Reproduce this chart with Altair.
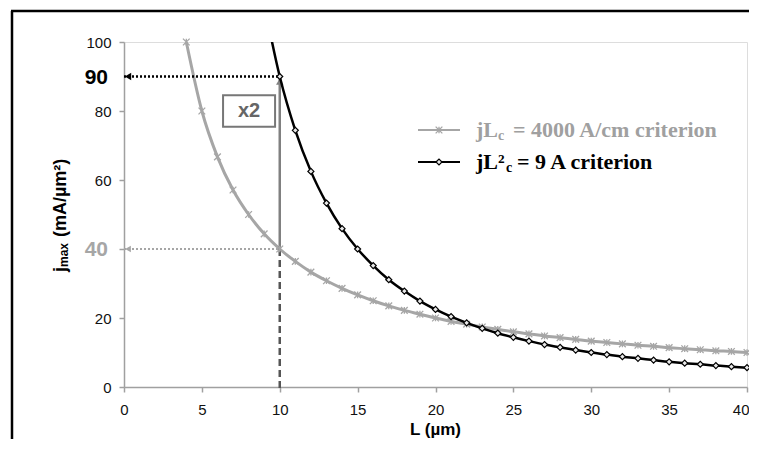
import altair as alt
import pandas as pd

# ---- data ----
L_gray = [4, 5, 6, 7, 8, 9, 10, 11, 12, 13, 14, 15, 16, 17, 18, 19, 20, 21, 22,
          23, 24, 25, 26, 27, 28, 29, 30, 31, 32, 33, 34, 35, 36, 37, 38, 39, 40]
j_gray = [100, 80, 66.7, 57.1, 50, 44.4, 40, 36.4, 33.3, 30.8, 28.6, 26.7, 25,
          23.5, 22.2, 21.1, 20, 19, 18.2, 17.4, 16.7, 16, 15.4, 14.8, 14.3, 13.8,
          13.3, 12.9, 12.5, 12.1, 11.8, 11.4, 11.1, 10.8, 10.5, 10.3, 10]

L_black = [9, 10, 11, 12, 13, 14, 15, 16, 17, 18, 19, 20, 21, 22, 23, 24, 25,
           26, 27, 28, 29, 30, 31, 32, 33, 34, 35, 36, 37, 38, 39, 40]
j_black = [111.1, 90, 74.4, 62.5, 53.3, 45.9, 40, 35.2, 31.1, 27.8, 24.9, 22.5,
           20.4, 18.6, 17.0, 15.6, 14.4, 13.3, 12.3, 11.5, 10.7, 10, 9.4, 8.8,
           8.3, 7.8, 7.3, 6.9, 6.6, 6.2, 5.9, 5.6]

x_ticks = [0, 5, 10, 15, 20, 25, 30, 35, 40]
y_ticks = [0, 20, 40, 60, 80, 100]

ann_L = 10
ann_hi = 90
ann_lo = 40
box_x = [6.36, 9.7]
box_y = [75.4, 84.6]

GRAY = "#a6a6a6"
SANS = "Liberation Sans"
SERIF = "Liberation Serif"

df_gray = pd.DataFrame({"L": L_gray, "j": j_gray})
df_black = pd.DataFrame({"L": L_black, "j": j_black})
df_black_pts = df_black[df_black["L"] >= ann_L]
one = pd.DataFrame({"a": [0]})

xs = alt.Scale(domain=[0, 40], nice=False, zero=False)
ys = alt.Scale(domain=[0, 100], nice=False, zero=False)

axis_common = dict(grid=False, title=None, tickSize=5, labelFontSize=15,
                   labelFont=SANS, labelColor="#111111", domainColor="#a0a0a0",
                   tickColor="#a0a0a0", domainWidth=1.5, tickWidth=1.5)
xaxis = alt.Axis(values=x_ticks, labelPadding=10, labelFlush=False,
                 labelAlign={"condition": {"test": "datum.value == 40",
                                           "value": "right"},
                             "value": "center"},
                 labelOffset={"condition": {"test": "datum.value == 40",
                                            "value": 2},
                              "value": 0},
                 **axis_common)
yaxis = alt.Axis(values=y_ticks, labelPadding=8,
                 labelExpr="datum.value == 40 ? '' : datum.label", **axis_common)

X = alt.X("L:Q", scale=xs, axis=xaxis)
Y = alt.Y("j:Q", scale=ys, axis=yaxis)

STAR = "M-1,-1L1,1M-1,1L1,-1M0,-1L0,1"

# ---- curves ----
gray_line = alt.Chart(df_gray).mark_line(color=GRAY, strokeWidth=3,
                                         interpolate="monotone").encode(x=X, y=Y)
gray_pts = alt.Chart(df_gray).mark_point(shape=STAR, size=45, filled=False,
                                         color=GRAY, strokeWidth=1.3,
                                         opacity=1).encode(x=X, y=Y)
black_line = alt.Chart(df_black).mark_line(color="black", strokeWidth=2.5,
                                           interpolate="monotone",
                                           clip=True).encode(x=X, y=Y)
black_pts = alt.Chart(df_black_pts).mark_point(shape="diamond", size=36,
                                               filled=True, fill="#e8e8e8",
                                               stroke="black", strokeWidth=1.2,
                                               opacity=1).encode(x=X, y=Y)

# ---- annotations ----
ann = pd.DataFrame({"L": [ann_L], "hi": [ann_hi], "lo": [ann_lo], "zero": [0]})
ann_x = alt.X("L:Q", scale=xs)

hi_rule = alt.Chart(ann).mark_rule(color="black", strokeWidth=2.5,
                                   strokeDash=[2, 2]).encode(
    x=alt.X("zero:Q", scale=xs), x2="L:Q", y=alt.Y("hi:Q", scale=ys))
lo_rule = alt.Chart(ann).mark_rule(color=GRAY, strokeWidth=2,
                                   strokeDash=[2, 2]).encode(
    x=alt.X("zero:Q", scale=xs), x2="L:Q", y=alt.Y("lo:Q", scale=ys))
hi_head = alt.Chart(ann).mark_point(shape="triangle-left", size=55, filled=True,
                                    color="black", opacity=1, xOffset=4).encode(
    x=alt.X("zero:Q", scale=xs), y=alt.Y("hi:Q", scale=ys))
lo_head = alt.Chart(ann).mark_point(shape="triangle-left", size=45, filled=True,
                                    color=GRAY, opacity=1, xOffset=4).encode(
    x=alt.X("zero:Q", scale=xs), y=alt.Y("lo:Q", scale=ys))
up_rule = alt.Chart(ann).mark_rule(color="#808080", strokeWidth=2.5).encode(
    x=ann_x, y=alt.Y("lo:Q", scale=ys), y2=alt.Y2("hi:Q"))
up_head = alt.Chart(ann).mark_point(shape="triangle-up", size=55, filled=True,
                                    color="#808080", opacity=1, yOffset=5).encode(
    x=ann_x, y=alt.Y("hi:Q", scale=ys))
dash_rule = alt.Chart(ann).mark_rule(color="#555555", strokeWidth=2.5,
                                     strokeDash=[7, 4]).encode(
    x=ann_x, y=alt.Y("lo:Q", scale=ys), y2=alt.value(350))

box_df = pd.DataFrame({"x1": [box_x[0]], "x2": [box_x[1]], "y1": [box_y[0]],
                       "y2": [box_y[1]], "t": ["x2"]})
box = alt.Chart(box_df).mark_rect(fill="white", stroke="#777777",
                                  strokeWidth=2).encode(
    x=alt.X("x1:Q", scale=xs), x2="x2:Q", y=alt.Y("y1:Q", scale=ys), y2="y2:Q")
box_txt = alt.Chart(box_df).transform_calculate(
    cx="(datum.x1 + datum.x2) / 2", cy="(datum.y1 + datum.y2) / 2").mark_text(
    font=SANS, fontSize=20, fontWeight="bold", color="#666666",
    align="center", baseline="middle").encode(
    x=alt.X("cx:Q", scale=xs), y=alt.Y("cy:Q", scale=ys), text="t:N")

big_lbl = pd.DataFrame({"v": [ann_hi, ann_lo], "t": ["90", "40"],
                        "c": ["black", GRAY]})
big_labels = alt.Chart(big_lbl).mark_text(
    font=SANS, fontSize=21, fontWeight="bold", align="right",
    baseline="middle", dy=1).encode(
    x=alt.value(-16), y=alt.Y("v:Q", scale=ys), text="t:N",
    color=alt.Color("c:N", scale=None))

# ---- axis titles (manual, for subscript) ----
def txt(s, x, y, size, color="black", font=SANS, angle=0, align="left",
        weight="bold"):
    kw = dict(font=font, fontSize=size, fontWeight=weight, color=color,
              align=align, baseline="middle")
    if angle:
        kw["angle"] = angle
    return alt.Chart(one).mark_text(text=s, **kw).encode(
        x=alt.value(x), y=alt.value(y))

xtitle = txt("L (µm)", 311.5, 43 + 345, 17, align="center")
yt_j = txt("j", -63, 230, 18, angle=270)
yt_max = txt("max", -60, 225, 12, angle=270)
yt_rest = txt("(mA/µm²)", -63, 195, 18, angle=270)

# ---- legend (manual) ----
leg_rows = [88, 120]
leg_line_g = alt.Chart(one).mark_rule(color=GRAY, strokeWidth=2).encode(
    x=alt.value(294), x2=alt.value(336), y=alt.value(leg_rows[0]))
leg_pt_g = alt.Chart(one).mark_point(shape=STAR, size=45, filled=False,
                                     color=GRAY, strokeWidth=1.3, opacity=1).encode(
    x=alt.value(315), y=alt.value(leg_rows[0]))
leg_line_b = alt.Chart(one).mark_rule(color="black", strokeWidth=2).encode(
    x=alt.value(294), x2=alt.value(336), y=alt.value(leg_rows[1]))
leg_pt_b = alt.Chart(one).mark_point(shape="diamond", size=36, filled=True,
                                     fill="#e8e8e8", stroke="black",
                                     strokeWidth=1.2, opacity=1).encode(
    x=alt.value(315), y=alt.value(leg_rows[1]))

LEG_COL = "#a0a0a0"
leg_texts = [
    txt("jL", 352, leg_rows[0], 22, LEG_COL, SERIF),
    txt("c", 374, leg_rows[0] + 6, 14, LEG_COL, SERIF),
    txt("= 4000 A/cm criterion", 389, leg_rows[0], 22, LEG_COL, SERIF),
    txt("jL²", 352, leg_rows[1], 22, "black", SERIF),
    txt("c", 382, leg_rows[1] + 6, 14, "black", SERIF),
    txt("= 9 A criterion", 393, leg_rows[1], 22, "black", SERIF),
]

# ---- outer frame (black, cropped) ----
frame_left = alt.Chart(one).mark_rule(color="black", strokeWidth=2.5).encode(
    x=alt.value(-112), y=alt.value(-31), y2=alt.value(420))
frame_top = alt.Chart(one).mark_rule(color="black", strokeWidth=2.5).encode(
    x=alt.value(-113), x2=alt.value(700), y=alt.value(-31))

chart = alt.layer(
    gray_line,
    dash_rule, up_rule, up_head, hi_rule, lo_rule, hi_head, lo_head,
    box, box_txt,
    gray_pts, black_line, black_pts,
    big_labels, xtitle, yt_j, yt_max, yt_rest,
    leg_line_g, leg_pt_g, leg_line_b, leg_pt_b, *leg_texts,
    frame_left, frame_top,
).properties(
    width=623, height=345,
    autosize=alt.AutoSizeParams(type="none"),
    padding={"left": 116, "top": 34, "right": 2, "bottom": 52},
).configure_view(stroke="#888888", strokeWidth=1).configure(background="white")

chart.save("out.html", embed_options={"renderer": "svg", "actions": False})
